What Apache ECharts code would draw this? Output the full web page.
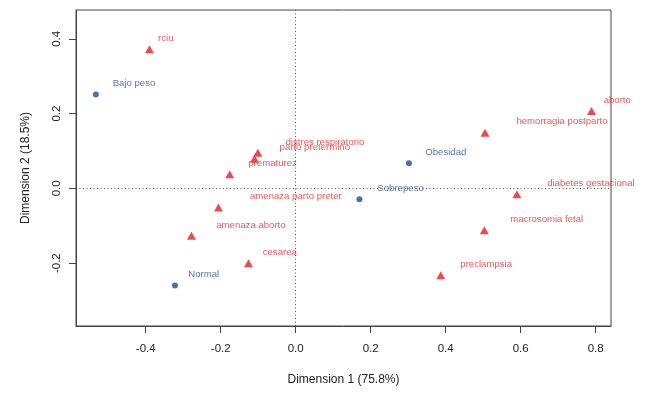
<!DOCTYPE html>
<html><head><meta charset="utf-8">
<script src="https://cdn.jsdelivr.net/npm/echarts@6/dist/echarts.min.js"></script>
<style>html,body{margin:0;padding:0;background:#fff}#c{width:651px;height:393px}</style>
</head><body><div id="c"></div>
<script>
// Row categories (blue points)
const rowNames = ['Bajo peso', 'Normal', 'Sobrepeso', 'Obesidad'];
const rowDim1 = [-0.533, -0.322, 0.170, 0.302];
const rowDim2 = [0.251, -0.260, -0.029, 0.067];
// Column categories (red triangles)
const colNames = ['rciu', 'distres respiratorio', 'parto pretermino', 'prematurez',
  'amenaza parto preter', 'amenaza aborto', 'cesarea', 'hemorragia postparto',
  'aborto', 'diabetes gestacional', 'macrosomia fetal', 'preclampsia'];
const colDim1 = [-0.390, -0.101, -0.110, -0.176, -0.206, -0.278, -0.126, 0.505, 0.789, 0.590, 0.503, 0.387];
const colDim2 = [0.372, 0.095, 0.079, 0.038, -0.051, -0.127, -0.200, 0.149, 0.207, -0.016, -0.112, -0.232];
// Axis ticks and titles
const xTicks = [-0.4, -0.2, 0.0, 0.2, 0.4, 0.6, 0.8];
const yTicks = [-0.2, 0.0, 0.2, 0.4];
const xTitle = 'Dimension 1 (75.8%)';
const yTitle = 'Dimension 2 (18.5%)';

const FONT = '"Liberation Sans", Arial, sans-serif';
const LBL_SIZE = 9.6;
const ctx = document.createElement('canvas').getContext('2d');
ctx.font = LBL_SIZE + 'px "Liberation Sans"';
function lblOffset(t) { const w = ctx.measureText(t).width; return [4 + 0.3 * w, -11]; }

function pts(names, d1, d2) {
  return names.map((n, i) => ({
    name: n, value: [d1[i], d2[i]],
    label: { offset: lblOffset(n) }
  }));
}

const chart = echarts.init(document.getElementById('c'), null, { renderer: 'canvas' });
const axisCommon = {
  type: 'value',
  splitLine: { show: false },
  axisLine: { show: true, onZero: false, lineStyle: { color: '#444', width: 1 } },
  axisTick: { show: true, inside: false, length: 7, lineStyle: { color: '#444' } },
  nameLocation: 'middle',
  nameTextStyle: { color: '#222', fontFamily: FONT, fontSize: 12 }
};
chart.setOption({
  animation: false,
  backgroundColor: '#fff',
  grid: { left: 76, right: 40, top: 10, bottom: 67, show: true, borderColor: '#444', borderWidth: 1 },
  xAxis: Object.assign({}, axisCommon, {
    min: -0.586, max: 0.841,
    name: xTitle, nameGap: 48,
    axisTick: Object.assign({}, axisCommon.axisTick, { customValues: xTicks }),
    axisLabel: { customValues: xTicks, formatter: v => v.toFixed(1), margin: 17, color: '#222', fontFamily: FONT, fontSize: 11.5 }
  }),
  yAxis: Object.assign({}, axisCommon, {
    min: -0.368, max: 0.477,
    name: yTitle, nameGap: 44,
    axisTick: Object.assign({}, axisCommon.axisTick, { customValues: yTicks }),
    axisLabel: { customValues: yTicks, formatter: v => v.toFixed(1), rotate: 90, margin: 13, color: '#222', fontFamily: FONT, fontSize: 11.5 }
  }),
  series: [
    {
      type: 'scatter', silent: true,
      data: [],
      markLine: {
        silent: true, symbol: 'none', label: { show: false },
        lineStyle: { color: '#555', width: 1, type: [1, 2.5] },
        data: [{ xAxis: 0 }, { yAxis: 0 }]
      }
    },
    {
      type: 'scatter', name: 'rows',
      symbol: 'circle', symbolSize: 6,
      itemStyle: { color: '#1f4e9c' },
      label: { show: true, formatter: '{b}', position: 'inside', align: 'left', verticalAlign: 'middle',
        color: '#2d52a0', fontFamily: FONT, fontSize: LBL_SIZE },
      data: pts(rowNames, rowDim1, rowDim2)
    },
    {
      type: 'scatter', name: 'cols',
      symbol: 'triangle', symbolSize: [9, 8],
      itemStyle: { color: '#ec1c24' },
      label: { show: true, formatter: '{b}', position: 'inside', align: 'left', verticalAlign: 'middle',
        color: '#ee2a2e', fontFamily: FONT, fontSize: LBL_SIZE },
      data: pts(colNames, colDim1, colDim2)
    }
  ]
});
</script>
</body></html>
